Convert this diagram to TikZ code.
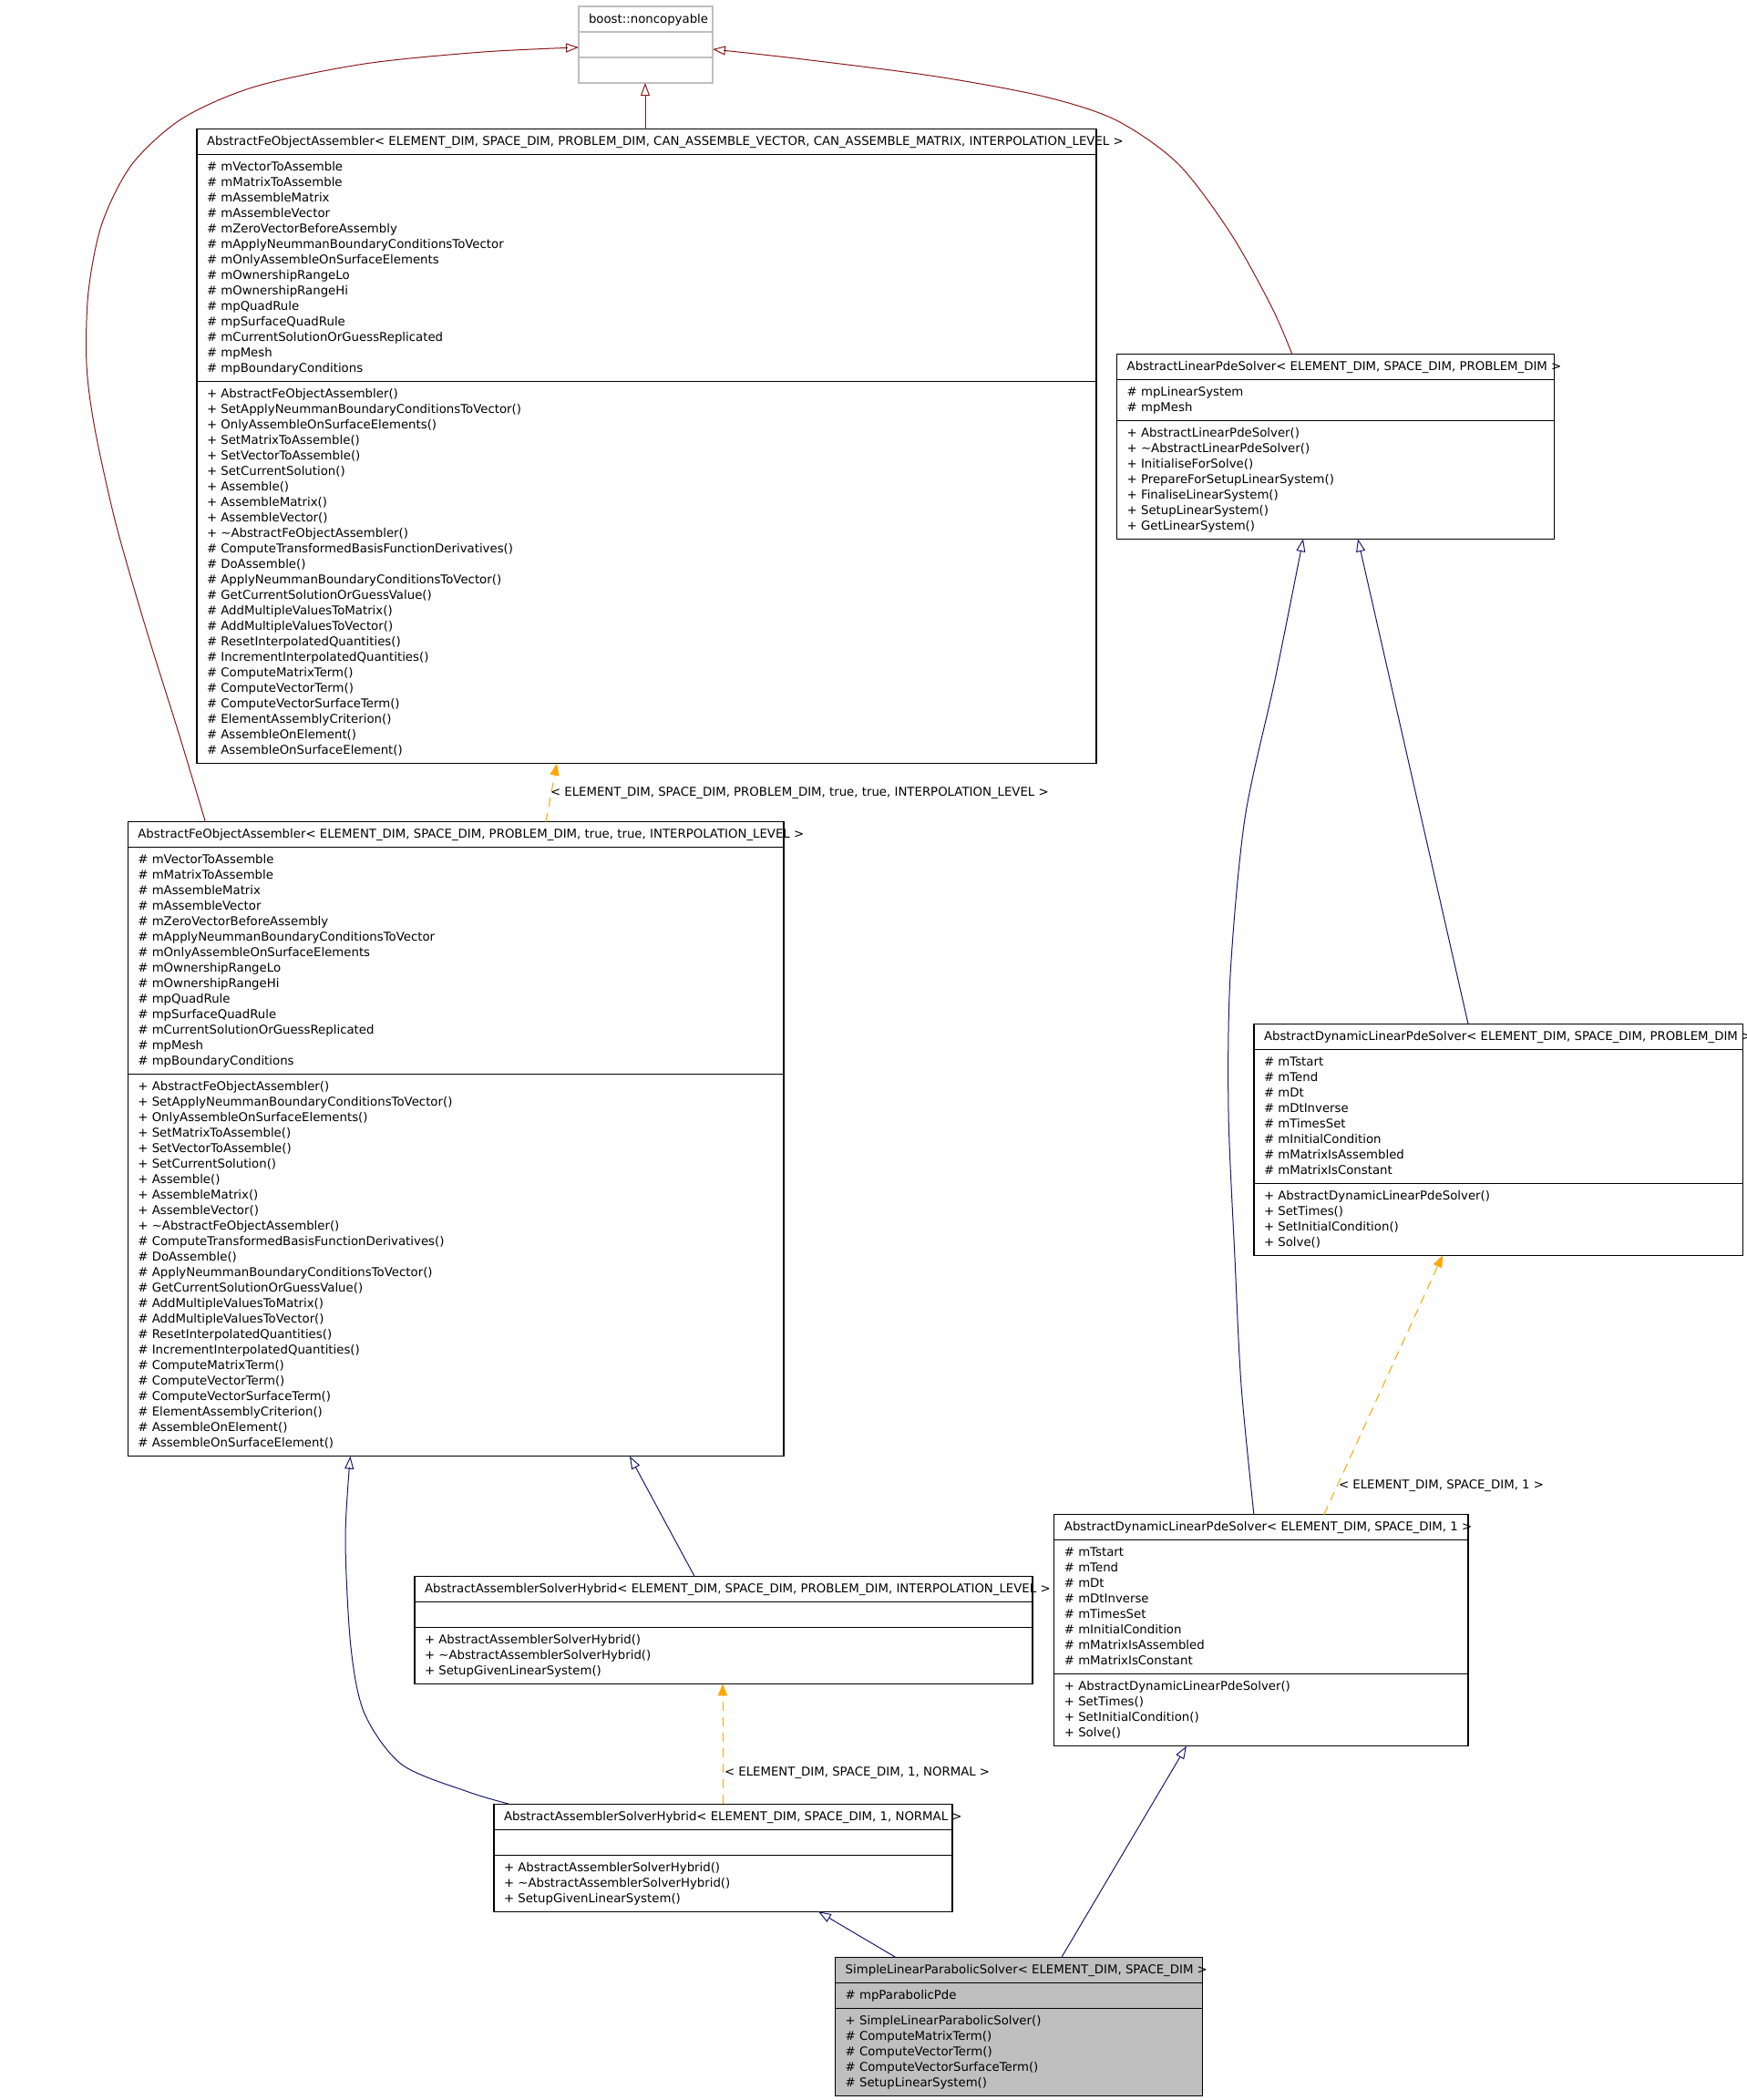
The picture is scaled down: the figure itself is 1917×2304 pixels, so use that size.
\documentclass[tikz,border=0pt]{standalone}
\usepackage{fontspec}
\setmainfont{DejaVu Sans}
\usetikzlibrary{arrows.meta,calc}
\definecolor{fire}{HTML}{8B1A1A}
\definecolor{mblue}{HTML}{191970}
\definecolor{orng}{HTML}{FFA500}
\definecolor{greyf}{HTML}{BFBFBF}
\tikzset{
  txt/.style={inner sep=0pt, outer sep=0pt, font=\fontsize{6.65}{8.5}\selectfont, anchor=base west},
  cls/.style={draw=black, line width=0.55pt, inner sep=0pt, outer sep=0pt, fill=white},
  clsgrey/.style={cls, draw=greyf},
  clssel/.style={cls, fill=greyf},
  sepblack/.style={draw=black, line width=0.55pt},
  sepgrey/.style={draw=greyf, line width=0.55pt},
  privinh/.style={draw=fire, line width=0.5pt, -{Triangle[open, length=7pt, width=5pt]}},
  pubinh/.style={draw=mblue, line width=0.5pt, -{Triangle[open, length=7pt, width=5pt]}},
  tmpl/.style={draw=orng, line width=0.5pt, dash pattern=on 5pt off 3.5pt, -{Triangle[length=6.5pt, width=5pt, fill=orng]}},
}
\newcommand\umlbox[6]{\node[#2, anchor=north west, minimum width={(#4-#3)*0.5pt}, minimum height={(#6-#5)*0.5pt}] (#1) at (#3,#5) {};}
\newcommand\umlsep[3]{\draw[#3] ($(#1.north west)+(0,#2)$) -- ($(#1.north east)+(0,#2)$);}
\newcommand\umlrows[4]{\foreach \lbl [count=\i] in {#4} {\node[txt] (#1\i) at (#2,{#3+17*(\i-1)}) {\lbl};}}

\begin{document}
\begin{tikzpicture}[x=0.5pt,y=-0.5pt]
\fill[white] (0,0) rectangle (1917,2304);
\useasboundingbox (0,0) rectangle (1917,2304);

% boost::noncopyable
\umlbox{boost}{clsgrey}{635}{782}{7}{91}
\umlsep{boost}{28}{sepgrey}
\umlsep{boost}{56}{sepgrey}
\node[txt] (boosth) at (646,25.2) {boost::noncopyable};

% AbstractFeObjectAssembler generic
\umlbox{A1}{cls}{216}{1203}{141.7}{837.7}
\umlsep{A1}{28}{sepblack}
\umlsep{A1}{277}{sepblack}
\node[txt] (A1h) at (227,159.9) {AbstractFeObjectAssembler< ELEMENT\_DIM, SPACE\_DIM, PROBLEM\_DIM, CAN\_ASSEMBLE\_VECTOR, CAN\_ASSEMBLE\_MATRIX, INTERPOLATION\_LEVEL >};
\umlrows{A1a}{227}{187.9}{\# mVectorToAssemble,\# mMatrixToAssemble,\# mAssembleMatrix,\# mAssembleVector,\# mZeroVectorBeforeAssembly,\# mApplyNeummanBoundaryConditionsToVector,\# mOnlyAssembleOnSurfaceElements,\# mOwnershipRangeLo,\# mOwnershipRangeHi,\# mpQuadRule,\# mpSurfaceQuadRule,\# mCurrentSolutionOrGuessReplicated,\# mpMesh,\# mpBoundaryConditions}
\umlrows{A1m}{227}{436.9}{+ AbstractFeObjectAssembler(),+ SetApplyNeummanBoundaryConditionsToVector(),+ OnlyAssembleOnSurfaceElements(),+ SetMatrixToAssemble(),+ SetVectorToAssemble(),+ SetCurrentSolution(),+ Assemble(),+ AssembleMatrix(),+ AssembleVector(),+ \textasciitilde AbstractFeObjectAssembler(),\# ComputeTransformedBasisFunctionDerivatives(),\# DoAssemble(),\# ApplyNeummanBoundaryConditionsToVector(),\# GetCurrentSolutionOrGuessValue(),\# AddMultipleValuesToMatrix(),\# AddMultipleValuesToVector(),\# ResetInterpolatedQuantities(),\# IncrementInterpolatedQuantities(),\# ComputeMatrixTerm(),\# ComputeVectorTerm(),\# ComputeVectorSurfaceTerm(),\# ElementAssemblyCriterion(),\# AssembleOnElement(),\# AssembleOnSurfaceElement()}

% AbstractLinearPdeSolver
\umlbox{ALPS}{cls}{1225.7}{1705.7}{388.3}{591.3}
\umlsep{ALPS}{28}{sepblack}
\umlsep{ALPS}{73}{sepblack}
\node[txt] (ALPSh) at (1236.7,406.5) {AbstractLinearPdeSolver< ELEMENT\_DIM, SPACE\_DIM, PROBLEM\_DIM >};
\umlrows{ALPSa}{1236.7}{434.5}{\# mpLinearSystem,\# mpMesh}
\umlrows{ALPSm}{1236.7}{479.5}{+ AbstractLinearPdeSolver(),+ \textasciitilde AbstractLinearPdeSolver(),+ InitialiseForSolve(),+ PrepareForSetupLinearSystem(),+ FinaliseLinearSystem(),+ SetupLinearSystem(),+ GetLinearSystem()}

% AbstractDynamicLinearPdeSolver generic
\umlbox{ADLPS}{cls}{1376}{1912.6}{1123.3}{1377.3}
\umlsep{ADLPS}{28}{sepblack}
\umlsep{ADLPS}{175}{sepblack}
\node[txt] (ADLPSh) at (1387,1141.5) {AbstractDynamicLinearPdeSolver< ELEMENT\_DIM, SPACE\_DIM, PROBLEM\_DIM >};
\umlrows{ADLPSa}{1387}{1169.5}{\# mTstart,\# mTend,\# mDt,\# mDtInverse,\# mTimesSet,\# mInitialCondition,\# mMatrixIsAssembled,\# mMatrixIsConstant}
\umlrows{ADLPSm}{1387}{1316.5}{+ AbstractDynamicLinearPdeSolver(),+ SetTimes(),+ SetInitialCondition(),+ Solve()}

% AbstractFeObjectAssembler true true
\umlbox{A2}{cls}{140.4}{860}{901.7}{1597.7}
\umlsep{A2}{28}{sepblack}
\umlsep{A2}{277}{sepblack}
\node[txt] (A2h) at (151.4,919.9) {AbstractFeObjectAssembler< ELEMENT\_DIM, SPACE\_DIM, PROBLEM\_DIM, true, true, INTERPOLATION\_LEVEL >};
\umlrows{A2a}{151.4}{947.9}{\# mVectorToAssemble,\# mMatrixToAssemble,\# mAssembleMatrix,\# mAssembleVector,\# mZeroVectorBeforeAssembly,\# mApplyNeummanBoundaryConditionsToVector,\# mOnlyAssembleOnSurfaceElements,\# mOwnershipRangeLo,\# mOwnershipRangeHi,\# mpQuadRule,\# mpSurfaceQuadRule,\# mCurrentSolutionOrGuessReplicated,\# mpMesh,\# mpBoundaryConditions}
\umlrows{A2m}{151.4}{1196.9}{+ AbstractFeObjectAssembler(),+ SetApplyNeummanBoundaryConditionsToVector(),+ OnlyAssembleOnSurfaceElements(),+ SetMatrixToAssemble(),+ SetVectorToAssemble(),+ SetCurrentSolution(),+ Assemble(),+ AssembleMatrix(),+ AssembleVector(),+ \textasciitilde AbstractFeObjectAssembler(),\# ComputeTransformedBasisFunctionDerivatives(),\# DoAssemble(),\# ApplyNeummanBoundaryConditionsToVector(),\# GetCurrentSolutionOrGuessValue(),\# AddMultipleValuesToMatrix(),\# AddMultipleValuesToVector(),\# ResetInterpolatedQuantities(),\# IncrementInterpolatedQuantities(),\# ComputeMatrixTerm(),\# ComputeVectorTerm(),\# ComputeVectorSurfaceTerm(),\# ElementAssemblyCriterion(),\# AssembleOnElement(),\# AssembleOnSurfaceElement()}

% AbstractAssemblerSolverHybrid generic
\umlbox{AASH}{cls}{455}{1133}{1729.3}{1847.3}
\umlsep{AASH}{28}{sepblack}
\umlsep{AASH}{56}{sepblack}
\node[txt] (AASHh) at (466,1747.5) {AbstractAssemblerSolverHybrid< ELEMENT\_DIM, SPACE\_DIM, PROBLEM\_DIM, INTERPOLATION\_LEVEL >};
\umlrows{AASHm}{466}{1803.5}{+ AbstractAssemblerSolverHybrid(),+ \textasciitilde AbstractAssemblerSolverHybrid(),+ SetupGivenLinearSystem()}

% AbstractDynamicLinearPdeSolver 1
\umlbox{ADLPS1}{cls}{1156.9}{1611}{1661.7}{1915.7}
\umlsep{ADLPS1}{28}{sepblack}
\umlsep{ADLPS1}{175}{sepblack}
\node[txt] (ADLPS1h) at (1167.9,1679.9) {AbstractDynamicLinearPdeSolver< ELEMENT\_DIM, SPACE\_DIM, 1 >};
\umlrows{ADLPS1a}{1167.9}{1707.9}{\# mTstart,\# mTend,\# mDt,\# mDtInverse,\# mTimesSet,\# mInitialCondition,\# mMatrixIsAssembled,\# mMatrixIsConstant}
\umlrows{ADLPS1m}{1167.9}{1854.9}{+ AbstractDynamicLinearPdeSolver(),+ SetTimes(),+ SetInitialCondition(),+ Solve()}

% AbstractAssemblerSolverHybrid 1 NORMAL
\umlbox{AASH1}{cls}{542}{1045}{1979.3}{2097.3}
\umlsep{AASH1}{28}{sepblack}
\umlsep{AASH1}{56}{sepblack}
\node[txt] (AASH1h) at (553,1997.5) {AbstractAssemblerSolverHybrid< ELEMENT\_DIM, SPACE\_DIM, 1, NORMAL >};
\umlrows{AASH1m}{553}{2053.5}{+ AbstractAssemblerSolverHybrid(),+ \textasciitilde AbstractAssemblerSolverHybrid(),+ SetupGivenLinearSystem()}

% SimpleLinearParabolicSolver
\umlbox{SLPS}{clssel}{916.7}{1319.3}{2147.7}{2299.7}
\umlsep{SLPS}{28}{sepblack}
\umlsep{SLPS}{56}{sepblack}
\node[txt] (SLPSh) at (927.7,2165.9) {SimpleLinearParabolicSolver< ELEMENT\_DIM, SPACE\_DIM >};
\umlrows{SLPSa}{927.7}{2193.9}{\# mpParabolicPde}
\umlrows{SLPSm}{927.7}{2221.9}{+ SimpleLinearParabolicSolver(),\# ComputeMatrixTerm(),\# ComputeVectorTerm(),\# ComputeVectorSurfaceTerm(),\# SetupLinearSystem()}

% connectors
\draw[privinh] ($(A1.north west)+(492,0)$) -- ($(boost.south west)+(73,0)$);

\coordinate (c2s) at ($(A2.north west)+(85,0)$);
\coordinate (c2e) at ($(boost.north west)+(0,45)$);
\draw[privinh] plot[smooth] coordinates {(c2s) (196,804) (160,689) (127,574) (104,470) (95,400) (97,320) (112,245) (145,180) (200,130) (280,95) (400,70) (530,57) (c2e)};

\coordinate (c3s) at ($(ALPS.north west)+(192,0)$);
\coordinate (c3e) at ($(boost.north east)+(0,47)$);
\draw[privinh] plot[smooth] coordinates {(c3s) (1396,338) (1351,257) (1293,180) (1225,132) (1146,106) (1028,84) (881,65) (c3e)};

\draw[pubinh] ($(ADLPS.north west)+(235,0)$) -- ($(ALPS.south west)+(264.3,0)$);

\coordinate (c5s) at ($(ADLPS1.north west)+(219,0)$);
\coordinate (c5e) at ($(ALPS.south west)+(204.3,0)$);
\draw[pubinh] plot[smooth] coordinates {(c5s) (1362,1520) (1355,1380) (1348,1220) (1350,1070) (1366,898) (1399,746) (c5e)};

\draw[tmpl] ($(ADLPS1.north west)+(296,0)$) -- ($(ADLPS.south west)+(207,0)$);
\node[txt] (L2) at (1469,1633.6) {< ELEMENT\_DIM, SPACE\_DIM, 1 >};

\draw[tmpl] ($(A2.north west)+(458.6,0)$) -- ($(A1.south west)+(395,0)$);
\node[txt] (L1) at (604,873.3) {< ELEMENT\_DIM, SPACE\_DIM, PROBLEM\_DIM, true, true, INTERPOLATION\_LEVEL >};

\draw[pubinh] ($(AASH.north west)+(307,0)$) -- ($(A2.south west)+(550.6,0)$);

\coordinate (c9s) at ($(AASH1.north west)+(17,0)$);
\coordinate (c9e) at ($(A2.south west)+(244,0)$);
\draw[pubinh] plot[smooth] coordinates {(c9s) (514,1966) (441,1936) (400,1880) (385,1807) (379,1689) (c9e)};

\draw[tmpl] ($(AASH1.north west)+(251,0)$) -- ($(AASH.south west)+(338,0)$);
\node[txt] (L3) at (795,1948.5) {< ELEMENT\_DIM, SPACE\_DIM, 1, NORMAL >};

\draw[pubinh] ($(SLPS.north west)+(66.6,0)$) -- ($(AASH1.south west)+(356,0)$);
\draw[pubinh] ($(SLPS.north west)+(248,0)$) -- ($(ADLPS1.south west)+(145,0)$);
\end{tikzpicture}
\end{document}
